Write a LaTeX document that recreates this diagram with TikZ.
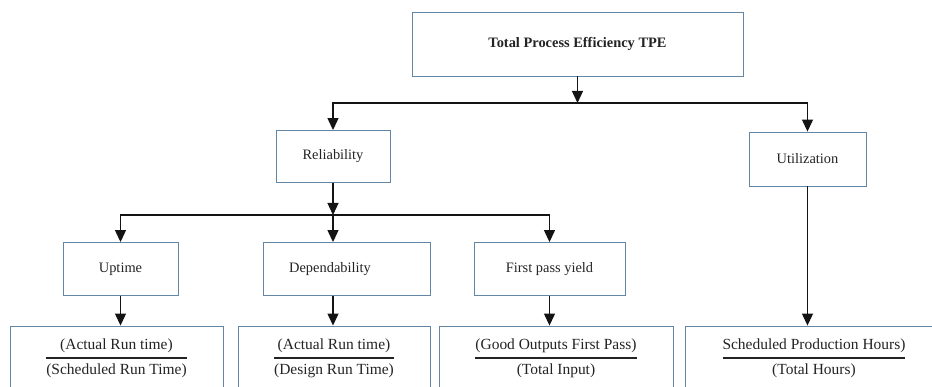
\documentclass[tikz,border=0pt]{standalone}
\usepackage{amsmath}
\usepackage{fontspec}
\setmainfont{Liberation Serif}
\usetikzlibrary{arrows.meta, positioning}
\definecolor{boxblue}{RGB}{98, 134, 164}
\definecolor{linegray}{RGB}{20, 20, 20}
\definecolor{textgray}{RGB}{35, 35, 35}
\newcommand{\effratio}[2]{$\genfrac{}{}{0.9pt}{0}{\text{#1}}{\text{#2}}$}

\begin{document}
\begin{tikzpicture}[node distance=2.25cm,
    box/.style={draw=boxblue, line width=0.5pt, rectangle, text=textgray, inner sep=0pt, font=\fontsize{8.2}{10}\selectfont},
    ratio/.style={box, minimum height=1.28cm, font=\fontsize{8.8}{10}\selectfont},
    link/.style={draw=linegray, line width=0.7pt, -{Triangle[width=0.22cm, length=0.24cm]}}]
    \useasboundingbox (0,0) rectangle (18.64,-7.74);
    \clip (0,0) rectangle (18.64,-7.74);
    \node[box, minimum width=6.62cm, minimum height=1.28cm, font=\fontsize{8.2}{10}\selectfont\bfseries] (tpe) at (11.55,-0.88) {Total Process Efficiency TPE};
    \node[box, minimum width=2.28cm, minimum height=1.04cm, below of=tpe, xshift=-4.89cm] (rel) {Reliability};
    \node[box, minimum width=2.34cm, minimum height=1.08cm, below of=tpe, xshift=4.6cm, yshift=-0.05cm] (util) {Utilization};
    \node[box, minimum width=2.30cm, minimum height=1.06cm, below of=rel, xshift=-4.25cm] (up) {Uptime};
    \node[box, minimum width=3.34cm, minimum height=1.06cm, below of=rel, xshift=0.27cm] (dep) {Dependability\hspace*{0.66cm}};
    \node[box, minimum width=3.02cm, minimum height=1.06cm, below of=rel, xshift=4.33cm] (fpy) {First pass yield};
    \node[ratio, minimum width=4.26cm, below of=up, xshift=-0.08cm, yshift=0.47cm] (f1) {\effratio{(Actual Run time)}{(Scheduled Run Time)}};
    \node[ratio, minimum width=3.84cm, below of=dep, xshift=-0.25cm, yshift=0.47cm] (f2) {\effratio{(Actual Run time)}{(Design Run Time)}};
    \node[ratio, minimum width=4.68cm, below of=fpy, xshift=0.13cm, yshift=0.47cm] (f3) {\effratio{(Good Outputs First Pass)}{(Total Input)}};
    \node[ratio, minimum width=5.16cm, below of=util, xshift=0.13cm, yshift=-1.73cm] (f4) {\effratio{Scheduled Production Hours)}{(Total Hours)}};
    \coordinate[below of=tpe, yshift=1.07cm] (topbus);
    \coordinate[below of=rel, yshift=1.08cm] (midbus);
    \draw[link] (tpe) -- (topbus);
    \draw[link] (topbus) -| (rel);
    \draw[link] (topbus) -| (util);
    \draw[link] (rel) -- (midbus);
    \draw[link] (midbus) -| (up);
    \draw[link] (midbus) -- (midbus |- dep.north);
    \draw[link] (midbus) -| (fpy);
    \draw[link] (up) -- (up |- f1.north);
    \draw[link] (midbus |- dep.south) -- (midbus |- f2.north);
    \draw[link] (fpy) -- (fpy |- f3.north);
    \draw[link] (util) -- (util |- f4.north);
\end{tikzpicture}
\end{document}
